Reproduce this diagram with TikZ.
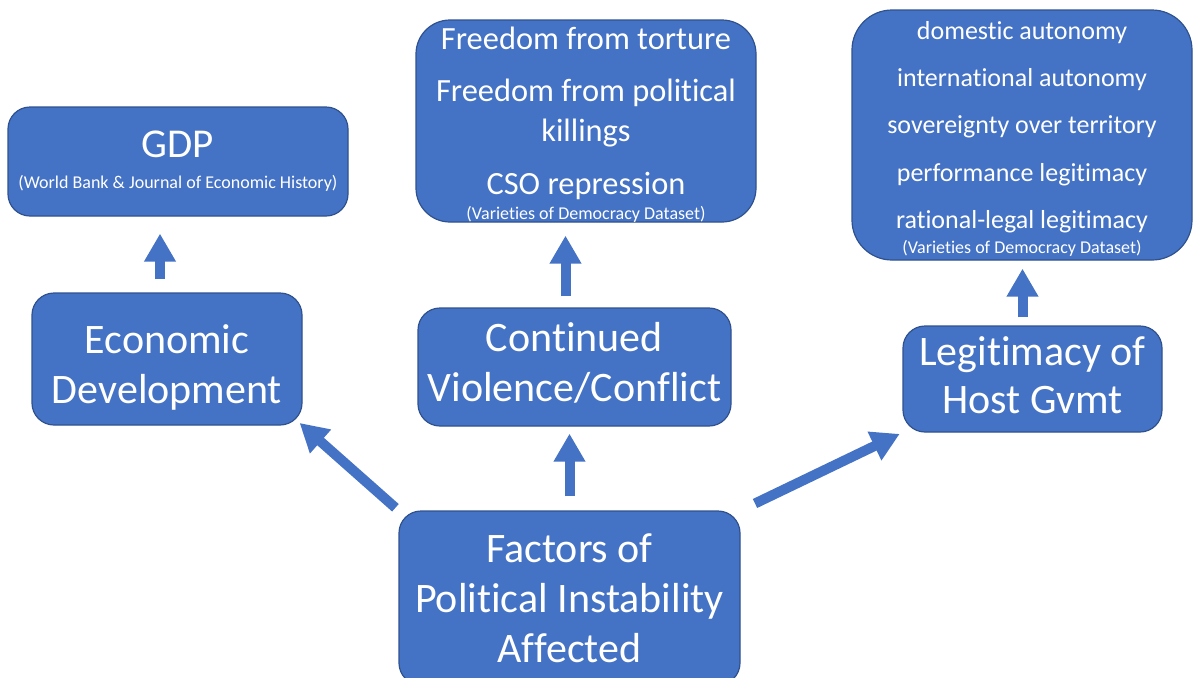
\documentclass[tikz,border=0pt]{standalone}
\usepackage{fontspec}
\setmainfont{Carlito}[Ligatures=NoCommon]
\usetikzlibrary{arrows.meta}
\definecolor{boxblue}{HTML}{4472C4}
\definecolor{boxedge}{HTML}{2F528F}
\newcommand\srcfont{\fontsize{9}{10}\selectfont}
\newcommand\padtop[1]{\rule{0pt}{#1}}
\newcommand\padbot[1]{\rule[-#1]{0pt}{#1}}
\tikzset{
  blk/.style={draw=boxedge, line width=0.6pt, fill=boxblue, text=white,
    rounded corners=11pt, inner sep=0pt, align=center},
  big/.style={font=\fontsize{21}{25}\selectfont},
  arr/.style={draw=boxblue, line width=5pt, -{Triangle[width=15pt,length=14pt]}},
}
\begin{document}
\begin{tikzpicture}[x=0.5pt,y=-0.5pt]
  \useasboundingbox (0,0) rectangle (1196,677);
  \node[blk,big,minimum width=170.5pt,minimum height=87pt] (fac) at (569.5,598)
    {Factors of\\Political Instability\\Affected};
  \node[blk,big,minimum width=135pt,minimum height=66pt] (econ) at (167,359)
    {\padtop{22.5pt}Economic\\Development};
  \node[blk,big,minimum width=156.5pt,minimum height=59pt] (cont) at (574.5,367)
    {Continued\\Violence/Conflict\padbot{4.7pt}};
  \node[blk,font=\fontsize{21}{24}\selectfont,minimum width=129.5pt,minimum height=53pt] (host) at (1032.5,379)
    {Legitimacy of\\Host Gvmt\padbot{4pt}};
  \node[blk,font=\fontsize{20.5}{15.5}\selectfont,minimum width=170pt,minimum height=54.5pt] (gdp) at (178,161.5)
    {GDP\\{\srcfont (World Bank \& Journal of Economic History)}};
  \node[blk,rounded corners=17pt,font=\fontsize{16.2}{20}\selectfont,minimum width=170pt,minimum height=101pt] (free) at (586,121)
    {\padtop{14.5pt}Freedom from torture\\[6pt]Freedom from political\\killings\\[6.5pt]CSO repression\\[-7.5pt]{\srcfont (Varieties of Democracy Dataset)}};
  \node[blk,rounded corners=20pt,font=\fontsize{13}{23.6}\selectfont,minimum width=170pt,minimum height=125pt] (legbox) at (1022,135)
    {\padtop{13pt}domestic autonomy\\international autonomy\\sovereignty over territory\\performance legitimacy\\rational-legal legitimacy\\[-11pt]{\srcfont (Varieties of Democracy Dataset)}};

  \draw[arr,shorten <=2pt,shorten >=-2pt] (fac.north west) -- (econ.south east);
  \draw[arr,shorten <=7pt,shorten >=3.5pt] (fac.north) -- (fac.north |- cont.south);
  \draw[arr,shorten <=8pt,shorten >=1.5pt] (fac.north east) -- (host.south west);
  \draw[arr,shorten <=6.5pt,shorten >=8.5pt] ([xshift=-3.5pt]econ.north) -- ([xshift=-3.5pt]econ.north |- gdp.south);
  \draw[arr,shorten <=5.5pt,shorten >=6.5pt] ([xshift=-4.5pt]cont.north) -- ([xshift=-4.5pt]cont.north |- free.south);
  \draw[arr,shorten <=4pt,shorten >=4pt] ([xshift=-5pt]host.north) -- ([xshift=-5pt]host.north |- legbox.south);
\end{tikzpicture}
\end{document}
